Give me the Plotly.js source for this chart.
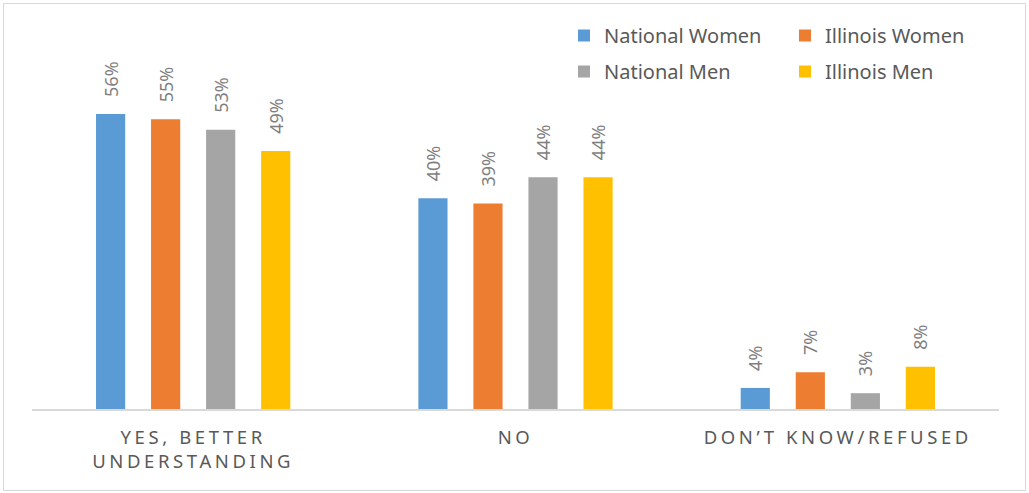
<!DOCTYPE html>
<html>
<head>
<meta charset="utf-8">
<script src="https://cdn.plot.ly/plotly-3.0.1.min.js"></script>
<style>
html, body { margin: 0; padding: 0; background: #fff; }
#chart { width: 1029px; height: 493px; position: absolute; left: 0; top: 0; }
#frame { position: absolute; left: 3px; top: 3px; width: 1021px; height: 486px; border: 1px solid #d9d9d9; pointer-events: none; }
#chart .xtick text { letter-spacing: 3.6px; }
</style>
</head>
<body>
<div id="chart"></div>
<div id="frame"></div>
<script>
const categories = ["YES, BETTER<br>UNDERSTANDING", "NO", "DON\u2019T KNOW/REFUSED"];
const seriesNames = ["National Women", "Illinois Women", "National Men", "Illinois Men"];
const nationalWomen = [56, 40, 4];
const illinoisWomen = [55, 39, 7];
const nationalMen = [53, 44, 3];
const illinoisMen = [49, 44, 8];
const colors = ["#5B9BD5", "#ED7D31", "#A5A5A5", "#FFC000"];
const legendOf = ["legend", "legend2", "legend", "legend2"];

const values = [nationalWomen, illinoisWomen, nationalMen, illinoisMen];
const FONT = "Noto Sans, Open Sans, sans-serif";

const traces = values.map((v, i) => ({
  type: "bar",
  name: seriesNames[i],
  x: categories,
  y: v,
  marker: { color: colors[i] },
  texttemplate: "\u00a0\u00a0\u00a0%{y}%",
  textposition: "outside",
  textangle: -90,
  constraintext: "none",
  cliponaxis: false,
  textfont: { family: FONT, size: 18, color: "#7f7f7f" },
  legend: legendOf[i],
  legendgroup: "g" + i,
  hoverinfo: "skip"
}));

const mt = 30, mb = 84, H = 493;
const pxPerUnit = 295 / 56;
const yTop = (H - mt - mb) / pxPerUnit;

const legendBase = {
  orientation: "v",
  xref: "container", yref: "container",
  xanchor: "left", yanchor: "top",
  font: { family: FONT, size: 20, color: "#595959" },
  tracegroupgap: 7,
  traceorder: "grouped",
  bgcolor: "rgba(0,0,0,0)"
};

const layout = {
  width: 1029,
  height: 493,
  margin: { l: 32, r: 30, t: mt, b: mb, autoexpand: false },
  paper_bgcolor: "#ffffff",
  plot_bgcolor: "#ffffff",
  barmode: "group",
  bargap: 0.317,
  bargroupgap: 0.47,
  font: { family: FONT, color: "#595959" },
  xaxis: {
    type: "category",
    showline: true,
    linecolor: "#d9d9d9",
    linewidth: 2,
    ticks: "",
    showgrid: false,
    zeroline: false,
    tickfont: { family: FONT, size: 18.5, color: "#595959" },
    ticklabelstandoff: 11
  },
  yaxis: {
    range: [0, yTop],
    visible: false,
    showgrid: false,
    zeroline: false
  },
  showlegend: true,
  legend: Object.assign({}, legendBase, { x: 564 / 1029, y: 1 - 16 / 493 }),
  legend2: Object.assign({}, legendBase, { x: 785 / 1029, y: 1 - 16 / 493 })
};

Plotly.newPlot("chart", traces, layout, { displayModeBar: false, staticPlot: true });
</script>
</body>
</html>
